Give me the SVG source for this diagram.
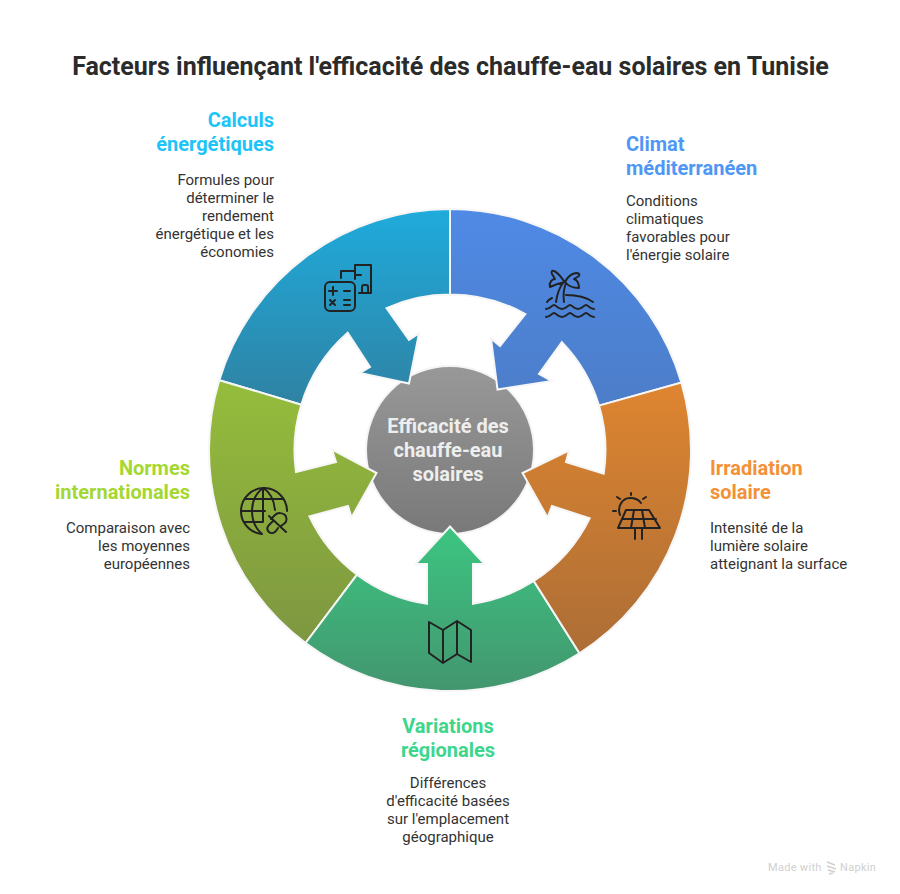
<svg xmlns="http://www.w3.org/2000/svg" width="900" height="894" viewBox="0 0 900 894">
<style>
text{font-family:Roboto,"Liberation Sans",sans-serif}
.t{font-size:25px;font-weight:700;fill:#2b2b2b;text-anchor:middle}
.h{font-size:20px;font-weight:700}
.b{font-size:15px;fill:#333}
.c{font-size:20px;font-weight:700;fill:#eee;text-anchor:middle}
.e{text-anchor:end}.m{text-anchor:middle}
.seg{stroke:#f6f6f6;stroke-width:2;stroke-linejoin:miter}
.i{fill:none;stroke:#222;stroke-width:2;stroke-linecap:round;stroke-linejoin:round}
</style>
<defs>
<linearGradient id="gb" gradientUnits="userSpaceOnUse" x1="0" y1="210" x2="0" y2="405"><stop offset="0" stop-color="#4f8ae6"/><stop offset="1" stop-color="#4c7dc8"/></linearGradient>
<linearGradient id="gt" gradientUnits="userSpaceOnUse" x1="0" y1="210" x2="0" y2="405"><stop offset="0" stop-color="#1fabdc"/><stop offset="1" stop-color="#2f82a3"/></linearGradient>
<linearGradient id="gg" gradientUnits="userSpaceOnUse" x1="0" y1="381" x2="0" y2="641"><stop offset="0" stop-color="#95bd3b"/><stop offset="1" stop-color="#7e9741"/></linearGradient>
<linearGradient id="gs" gradientUnits="userSpaceOnUse" x1="0" y1="528" x2="0" y2="690"><stop offset="0" stop-color="#3cc581"/><stop offset="1" stop-color="#43966f"/></linearGradient>
<linearGradient id="go" gradientUnits="userSpaceOnUse" x1="0" y1="383" x2="0" y2="651"><stop offset="0" stop-color="#de8530"/><stop offset="1" stop-color="#ad6e36"/></linearGradient>
<linearGradient id="gc" gradientUnits="userSpaceOnUse" x1="0" y1="367" x2="0" y2="533"><stop offset="0" stop-color="#989898"/><stop offset="1" stop-color="#797979"/></linearGradient>
</defs>
<rect width="900" height="894" fill="#fff"/>
<text class="t" x="450.500" y="75">Facteurs influençant l'efficacité des chauffe-eau solaires en Tunisie</text>
<g id="center">
<circle cx="450" cy="450" r="84" fill="url(#gc)" stroke="#f4f4f4" stroke-width="2"/>
<text class="c" x="448" y="433">Efficacité des</text>
<text class="c" x="448" y="457">chauffe-eau</text>
<text class="c" x="448" y="481">solaires</text>
</g>
<g id="connectors">
<path class="seg" fill="url(#gb)" d="M450 209A241 241 0 0 1 681.400 382.600L599 405.600A155.500 155.500 0 0 0 561.900 342.100L539 374L552 381L497.500 389.500L491 338.500L500 346L525.400 314A155.500 155.500 0 0 0 450 294.500Z"/>
<path class="seg" fill="url(#gt)" d="M450 209A241 241 0 0 0 219.300 380.200L301.300 404.700A155.500 155.500 0 0 1 347.700 332.800L370 367L360 373L409 383.500L419 333.500L409 340L386.500 308.100A155.500 155.500 0 0 1 450 294.500Z"/>
<path class="seg" fill="url(#gg)" d="M219.300 380.200A241 241 0 0 0 305.600 643L357 574.600A155.500 155.500 0 0 1 309.400 516.300L348 506L351.500 517.500L376.500 473L332 449.500L336 462L296 472A155.500 155.500 0 0 1 301.300 404.700Z"/>
<path class="seg" fill="url(#gs)" d="M305.600 643A241 241 0 0 0 579.500 653.300L533.800 581A155.500 155.500 0 0 1 473 603.800V564H484.500L450 526.500L415.500 564H427V603.800A155.500 155.500 0 0 1 357 574.600Z"/>
<path class="seg" fill="url(#go)" d="M681.400 382.600A241 241 0 0 1 579.500 653.300L533.800 581A155.500 155.500 0 0 0 589.700 518.400L552 506L547.500 517.500L522.500 473L569 450.500L566 462L603.700 473.600A155.500 155.500 0 0 0 599 405.600Z"/>
</g>
<g id="node-climat">
<path class="i" d="M546 309c4 0 6-4 8-4s4 4 8 4 6-4 8-4 4 4 8 4 6-4 8-4 4 4 8 4M546 317c4 0 6-4 8-4s4 4 8 4 6-4 8-4 4 4 8 4 6-4 8-4 4 4 8 4M547 302c1-2 3-3 5-4M566 295c10 0 20 2 27 7M556 302c1-7 3-14 7-19M564 302c-1-7 0-14 2-19M565 282c-3-3-6-9-11-11-2-1-3 1-2 3l3 5c-3 0-6 3-5 8 4-2 10-4 15-5ZM565 282c2-4 5-8 11-9 3 0 4 1 3 3l-5 3c3 1 5 4 5 9-5 0-11-2-14-6Z"/>
<text class="h" x="626" y="151" fill="#4f97f5">Climat</text>
<text class="h" x="626" y="175" fill="#4f97f5">méditerranéen</text>
<text class="b" x="626" y="206">Conditions</text>
<text class="b" x="626" y="224">climatiques</text>
<text class="b" x="626" y="242">favorables pour</text>
<text class="b" x="626" y="260">l'énergie solaire</text>
</g>
<g id="node-irradiation">
<path class="i" d="M620 515c-3-8 2-17 10-17 5 0 9 2 11 5M617 497l3 2M631 493v2M646 497l-3 2M613 511h3M626 510h23l11 18h-42ZM622 519h34M634 510l-3 18M642 510l3 18M635 529v10M642 529v10"/>
<text class="h" x="710" y="475" fill="#f39137">Irradiation</text>
<text class="h" x="710" y="499" fill="#f39137">solaire</text>
<text class="b" x="710" y="533">Intensité de la</text>
<text class="b" x="710" y="551">lumière solaire</text>
<text class="b" x="710" y="569">atteignant la surface</text>
</g>
<g id="node-variations">
<path class="i" d="M429 622L443 630L457 621L471 630V662L457 654L443 663L429 653ZM443 630V663M457 621V654"/>
<text class="h m" x="448" y="733" fill="#3dd68c">Variations</text>
<text class="h m" x="448" y="757" fill="#3dd68c">régionales</text>
<text class="b m" x="448" y="788">Différences</text>
<text class="b m" x="448" y="806">d'efficacité basées</text>
<text class="b m" x="448" y="824">sur l'emplacement</text>
<text class="b m" x="448" y="842">géographique</text>
</g>
<g id="node-normes">
<path class="i" d="M262 534A23 23 0 1 1 287 511M263 488V522M263 488C255 494 252 502 252 511S255 528 262 534M263 488C270 492 274 500 275 510M245 499H283M241 511H265M245 522H263M269 516L286 532M271 519L275 515C278 512 283 513 285 515C287 517 287 521 285 523L281 526M273 521L269 525C266 528 267 530 269 532C271 534 274 533 276 531L278 528"/>
<text class="h e" x="190" y="475" fill="#a5d733">Normes</text>
<text class="h e" x="190" y="499" fill="#a5d733">internationales</text>
<text class="b e" x="190" y="533">Comparaison avec</text>
<text class="b e" x="190" y="551">les moyennes</text>
<text class="b e" x="190" y="569">européennes</text>
</g>
<g id="node-calculs">
<path class="i" d="M330 282h20a5 5 0 0 1 5 5v19a5 5 0 0 1-5 5h-20a5 5 0 0 1-5-5v-19a5 5 0 0 1 5-5ZM329 291h8M333 287v8M344 291h6M330 300l5 5M335 300l-5 5M344 300h6M344 305h6M341 278v-7h14M355 279v-14h16v28h-12M355 275h6M362 293v-6a2 2 0 0 1 2-2h2a2 2 0 0 1 2 2v6"/>
<text class="h e" x="274" y="127" fill="#1cc4f8">Calculs</text>
<text class="h e" x="274" y="151" fill="#1cc4f8">énergétiques</text>
<text class="b e" x="274" y="185">Formules pour</text>
<text class="b e" x="274" y="203">déterminer le</text>
<text class="b e" x="274" y="221">rendement</text>
<text class="b e" x="274" y="239">énergétique et les</text>
<text class="b e" x="274" y="257">économies</text>
</g>
<g id="watermark">
<text x="768" y="871" font-size="11" fill="#d0d0d0" style="letter-spacing:.3px">Made with</text>
<path d="M827 862l8 3M827 866l9 3M828 870l7 2M829 874l4-1" fill="none" stroke="#d0d0d0" stroke-width="1.500"/>
<text x="840" y="871" font-size="11" fill="#d0d0d0" style="letter-spacing:.3px">Napkin</text>
</g>
</svg>
